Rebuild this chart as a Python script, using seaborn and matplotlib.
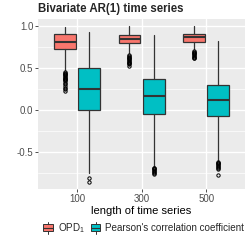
import matplotlib
matplotlib.use("Agg")
import matplotlib.pyplot as plt
import seaborn as sns
from matplotlib.patches import Rectangle
from matplotlib.lines import Line2D
from matplotlib.legend_handler import HandlerBase

# data: summary statistics
lengths = ["100", "300", "500"]
groups = ["OPD$_1$", "Pearson's correlation coefficient"]
colors = ["#F8766D", "#00BFC4"]

opd_whislo = [0.48, 0.68, 0.73]
opd_q1 = [0.73, 0.80, 0.82]
opd_med = [0.81, 0.85, 0.88]
opd_q3 = [0.91, 0.90, 0.91]
opd_whishi = [0.99, 1.00, 1.00]
opd_fliers = [
    [0.46, 0.45, 0.44, 0.43, 0.42, 0.41, 0.40, 0.39, 0.38, 0.37, 0.36, 0.35, 0.33, 0.31, 0.29, 0.27, 0.25, 0.23],
    [0.66, 0.65, 0.64, 0.63, 0.62, 0.61, 0.60, 0.59, 0.58, 0.57, 0.56, 0.55, 0.53],
    [0.71, 0.70, 0.69, 0.68, 0.67, 0.66, 0.65, 0.64, 0.63, 0.62],
]

pc_whislo = [-0.74, -0.67, -0.60]
pc_q1 = [0.00, -0.04, -0.06]
pc_med = [0.26, 0.17, 0.12]
pc_q3 = [0.51, 0.37, 0.30]
pc_whishi = [0.94, 0.90, 0.83]
pc_fliers = [
    [-0.80, -0.85],
    [-0.68, -0.69, -0.70, -0.71, -0.72, -0.73, -0.75, -0.76],
    [-0.61, -0.62, -0.63, -0.64, -0.65, -0.66, -0.67, -0.68, -0.70, -0.77],
]

sns.set_theme(style="darkgrid", rc={
    "axes.facecolor": "#EBEBEB",
    "grid.color": "white",
})
plt.rcParams["font.family"] = ["Liberation Sans", "DejaVu Sans"]
plt.rcParams["mathtext.default"] = "regular"

fig = plt.figure(figsize=(2.49, 2.49), dpi=100)
ax = fig.add_axes([0.153, 0.241, 0.831, 0.683])


def stats_for(i, wl, q1, med, q3, wh, fl):
    return dict(whislo=wl[i], q1=q1[i], med=med[i], q3=q3[i], whishi=wh[i], fliers=fl[i])


edge = "#333333"
series = [
    (opd_whislo, opd_q1, opd_med, opd_q3, opd_whishi, opd_fliers),
    (pc_whislo, pc_q1, pc_med, pc_q3, pc_whishi, pc_fliers),
]
offsets = [-0.1875, 0.1875]
for g, s in enumerate(series):
    stats = [stats_for(i, *s) for i in range(len(lengths))]
    pos = [i + offsets[g] for i in range(len(lengths))]
    ax.bxp(stats, positions=pos, widths=0.3375, patch_artist=True, showcaps=False,
           boxprops=dict(facecolor=colors[g], edgecolor=edge, linewidth=0.9),
           medianprops=dict(color=edge, linewidth=1.5),
           whiskerprops=dict(color=edge, linewidth=0.9),
           flierprops=dict(marker="o", markersize=2.4, markerfacecolor="none",
                           markeredgecolor="black", markeredgewidth=0.7))

ax.set_xlim(-0.6, 2.6)
ax.set_ylim(-0.935, 1.09)
ax.set_xticks(range(len(lengths)))
ax.set_xticklabels(lengths)
ax.set_yticks([1.0, 0.5, 0.0, -0.5])
ax.set_yticklabels(["1.0", "0.5", "0.0", "-0.5"])
ax.set_yticks([0.75, 0.25, -0.25, -0.75], minor=True)
ax.grid(True, which="major", color="white", linewidth=1.0)
ax.grid(True, which="minor", axis="y", color="white", linewidth=0.5)
ax.set_axisbelow(True)
for sp in ax.spines.values():
    sp.set_visible(False)
ax.tick_params(axis="both", which="major", length=2, width=0.6, color="#333333",
               labelsize=7, labelcolor="#4D4D4D", pad=1.5, left=True, bottom=True)
ax.tick_params(axis="both", which="minor", length=0)
ax.set_xlabel("length of time series", fontsize=8, color="black", labelpad=1.5)
ax.set_ylabel("")
ax.set_title("Bivariate AR(1) time series", fontsize=8.3, fontweight="bold",
             loc="left", pad=5)


class BoxHandler(HandlerBase):
    def create_artists(self, legend, orig, xd, yd, width, height, fontsize, trans):
        fc = orig.get_facecolor()
        cy = yd + height / 2
        r = Rectangle((xd + width * 0.1, cy - width * 0.3), width * 0.8, width * 0.6,
                      facecolor=fc, edgecolor=edge, linewidth=0.7, transform=trans)
        m = Line2D([xd + width * 0.1, xd + width * 0.9], [cy] * 2,
                   color=edge, linewidth=0.8, transform=trans)
        w1 = Line2D([xd + width / 2] * 2, [cy - width * 0.5, cy - width * 0.3],
                    color=edge, linewidth=0.7, transform=trans)
        w2 = Line2D([xd + width / 2] * 2, [cy + width * 0.3, cy + width * 0.5],
                    color=edge, linewidth=0.7, transform=trans)
        return [r, m, w1, w2]


handles = [Rectangle((0, 0), 1, 1, facecolor=c) for c in colors]
fig.legend(handles, groups, handler_map={Rectangle: BoxHandler()}, loc="center",
           bbox_to_anchor=(0.575, 0.084), ncol=2, frameon=False, fontsize=7.1,
           handlelength=1.2, handleheight=0.7, handletextpad=0.4, columnspacing=0.5,
           borderpad=0.2)

fig.savefig("out.png", dpi=100)
